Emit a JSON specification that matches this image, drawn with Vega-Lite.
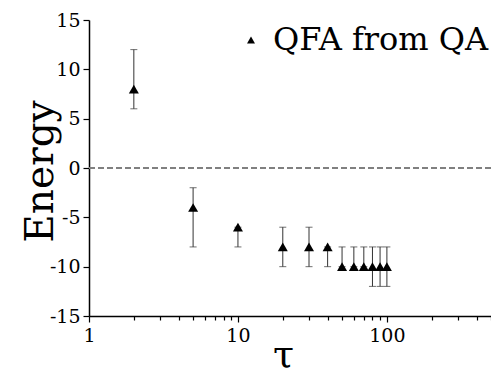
{
  "$schema": "https://vega.github.io/schema/vega-lite/v6.json",
  "width": 402,
  "height": 296,
  "autosize": {"type": "none"},
  "padding": {"left": 89, "top": 20, "right": 0, "bottom": 60},
  "background": "white",
  "data": {
    "values": [
      {"tau": 2, "E": 8, "lo": 6, "hi": 12, "series": "QFA from QA"},
      {"tau": 5, "E": -4, "lo": -8, "hi": -2, "series": "QFA from QA"},
      {"tau": 10, "E": -6, "lo": -8, "hi": -6, "series": "QFA from QA"},
      {"tau": 20, "E": -8, "lo": -10, "hi": -6, "series": "QFA from QA"},
      {"tau": 30, "E": -8, "lo": -10, "hi": -6, "series": "QFA from QA"},
      {"tau": 40, "E": -8, "lo": -10, "hi": -8, "series": "QFA from QA"},
      {"tau": 50, "E": -10, "lo": -10, "hi": -8, "series": "QFA from QA"},
      {"tau": 60, "E": -10, "lo": -10, "hi": -8, "series": "QFA from QA"},
      {"tau": 70, "E": -10, "lo": -10, "hi": -8, "series": "QFA from QA"},
      {"tau": 80, "E": -10, "lo": -12, "hi": -8, "series": "QFA from QA"},
      {"tau": 90, "E": -10, "lo": -12, "hi": -8, "series": "QFA from QA"},
      {"tau": 100, "E": -10, "lo": -12, "hi": -8, "series": "QFA from QA"}
    ]
  },
  "layer": [
    {
      "mark": {"type": "rule", "color": "#808080", "strokeWidth": 1.5, "strokeDash": [6, 3]},
      "encoding": {
        "y": {"datum": 0, "type": "quantitative", "scale": {"domain": [-15, 15], "nice": false, "zero": false}}
      }
    },
    {
      "mark": {"type": "rule", "color": "#333333", "strokeWidth": 1},
      "encoding": {
        "x": {
          "field": "tau", "type": "quantitative",
          "scale": {"type": "log", "domain": [1, 500], "nice": false},
          "title": "τ",
          "axis": {
            "values": [1, 2, 3, 4, 5, 6, 7, 8, 9, 10, 20, 30, 40, 50, 60, 70, 80, 90, 100, 200, 300, 400, 500],
            "labelExpr": "(datum.value == 1 || datum.value == 10 || datum.value == 100) ? '' + datum.value : ''",
            "tickSize": {"condition": {"test": "datum.value == 1 || datum.value == 10 || datum.value == 100", "value": 6}, "value": 4},
            "labelPadding": 4,
            "titleFontSize": 38,
            "titleX": 194,
            "titleY": 50,
            "titleAlign": "center",
            "titleBaseline": "alphabetic"
          }
        },
        "y": {
          "field": "lo", "type": "quantitative",
          "scale": {"domain": [-15, 15], "nice": false, "zero": false},
          "title": "Energy",
          "axis": {
            "values": [-15, -12.5, -10, -7.5, -5, -2.5, 0, 2.5, 5, 7.5, 10, 12.5, 15],
            "labelExpr": "datum.value % 5 == 0 ? '' + datum.value : ''",
            "tickSize": {"condition": {"test": "datum.value % 5 == 0", "value": 6}, "value": 4},
            "labelPadding": 3,
            "titleFontSize": 39,
            "titleAngle": -90,
            "titleX": -37,
            "titleY": 151,
            "titleAlign": "center",
            "titleBaseline": "alphabetic"
          }
        },
        "y2": {"field": "hi"}
      }
    },
    {
      "mark": {"type": "tick", "orient": "horizontal", "color": "#333333", "size": 7, "thickness": 1},
      "encoding": {
        "x": {"field": "tau", "type": "quantitative"},
        "y": {"field": "lo", "type": "quantitative"}
      }
    },
    {
      "mark": {"type": "tick", "orient": "horizontal", "color": "#333333", "size": 7, "thickness": 1},
      "encoding": {
        "x": {"field": "tau", "type": "quantitative"},
        "y": {"field": "hi", "type": "quantitative"}
      }
    },
    {
      "mark": {"type": "point", "filled": true, "size": 100, "color": "black", "opacity": 1},
      "encoding": {
        "x": {"field": "tau", "type": "quantitative"},
        "y": {"field": "E", "type": "quantitative"},
        "shape": {
          "field": "series", "type": "nominal",
          "scale": {"domain": ["QFA from QA"], "range": ["triangle-up"]},
          "legend": {
            "orient": "none",
            "legendX": 146,
            "legendY": 4,
            "title": null,
            "padding": 0,
            "symbolSize": 64,
            "symbolFillColor": "black",
            "symbolStrokeWidth": 0,
            "labelFont": "DejaVu Serif",
            "labelFontSize": 32,
            "labelColor": "black",
            "labelOffset": 6,
            "labelLimit": 400
          }
        }
      }
    }
  ],
  "config": {
    "font": "DejaVu Serif",
    "view": {"stroke": null},
    "axis": {
      "domainColor": "black",
      "domainWidth": 1.5,
      "tickColor": "black",
      "tickWidth": 1.2,
      "grid": false,
      "labelFont": "DejaVu Serif",
      "labelFontSize": 19,
      "labelColor": "black",
      "titleFont": "DejaVu Serif",
      "titleFontWeight": "normal",
      "titleColor": "black",
      "labelOverlap": false,
      "labelFlush": false
    },
    "legend": {"labelFont": "DejaVu Serif"}
  }
}
